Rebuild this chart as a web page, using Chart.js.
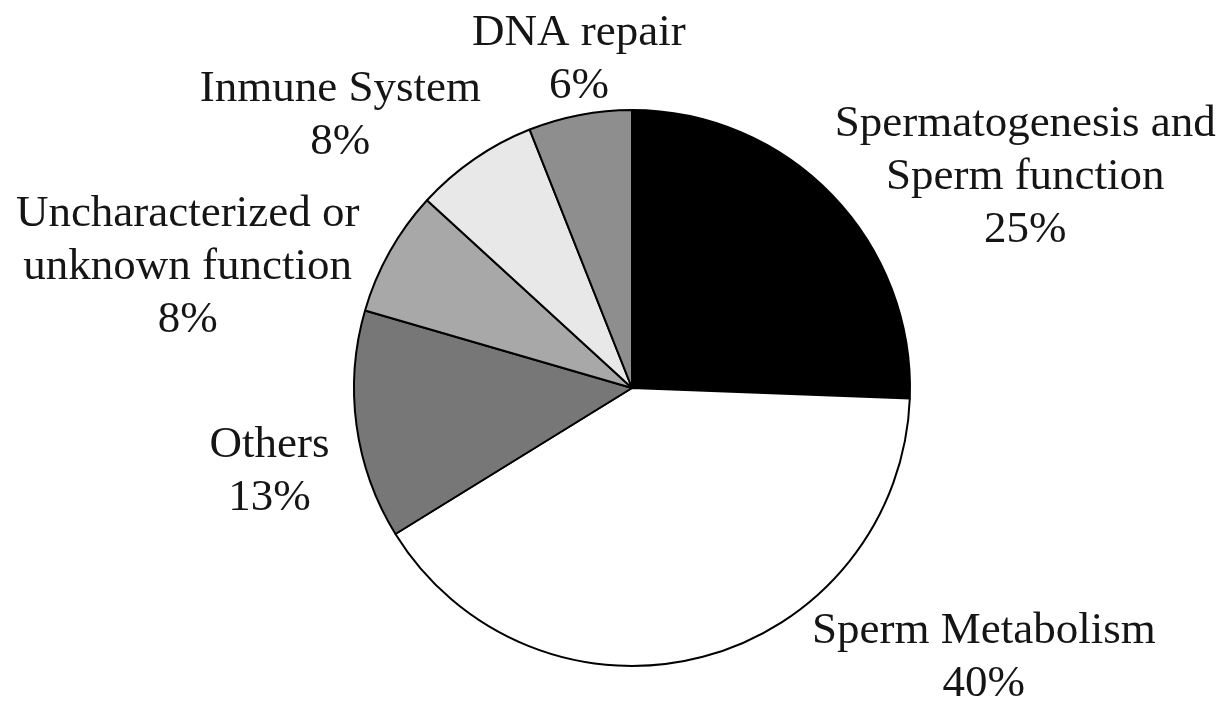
<!DOCTYPE html>
<html lang="en">
<head>
    <meta charset="UTF-8">
    <title>Protein function pie</title>
    <script src="https://cdn.jsdelivr.net/npm/chart.js"></script>
    <style>
        body { margin: 0; background: #fff; }
        #wrap { width: 1223px; height: 704px; }
    </style>
</head>
<body>
    <div id="wrap"><canvas id="myChart"></canvas></div>
    <script>
        // data
        const labelLines = [
            ['Spermatogenesis and', 'Sperm function'],
            ['Sperm Metabolism'],
            ['Others'],
            ['Uncharacterized or', 'unknown function'],
            ['Inmune System'],
            ['DNA repair']
        ];
        // printed (rounded) percentages
        const percentText = ['25%', '40%', '13%', '8%', '8%', '6%'];
        const sliceShares = [25.6, 40.6, 13.3, 7.3, 7.2, 6.0];
        const sliceColors = ['#000000', '#ffffff', '#777777', '#a8a8a8', '#e8e8e8', '#8e8e8e'];

        // where each label sits, relative to the middle of its slice's rim
        const labelShift = [[193, -18], [281, 1], [-87, 46], [-202, 15], [-134, -43], [-1, -55]];

        const outsideLabels = {
            id: 'outsideLabels',
            afterDatasetsDraw(chart) {
                const ctx = chart.ctx;
                const arcs = chart.getDatasetMeta(0).data;
                ctx.save();
                ctx.font = '45px "Liberation Serif", "Times New Roman", serif';
                ctx.fillStyle = '#151515';
                ctx.textAlign = 'center';
                ctx.textBaseline = 'middle';
                const lh = 53;
                arcs.forEach((arc, i) => {
                    const mid = (arc.startAngle + arc.endAngle) / 2;
                    const x = arc.x + Math.cos(mid) * arc.outerRadius + labelShift[i][0];
                    const y = arc.y + Math.sin(mid) * arc.outerRadius + labelShift[i][1];
                    const lines = labelLines[i].concat([percentText[i]]);
                    const top = y - (lines.length - 1) * lh / 2;
                    lines.forEach((t, j) => ctx.fillText(t, x, top + j * lh));
                });
                ctx.restore();
            }
        };

        const ctx = document.getElementById('myChart').getContext('2d');
        new Chart(ctx, {
            type: 'pie',
            data: {
                labels: labelLines.map(l => l.join(' ')),
                datasets: [{
                    data: sliceShares,
                    backgroundColor: sliceColors,
                    borderColor: '#000',
                    borderWidth: 2
                }]
            },
            options: {
                responsive: true,
                maintainAspectRatio: false,
                animation: false,
                layout: { padding: { top: 109, bottom: 37, left: 353, right: 312 } },
                plugins: {
                    legend: { display: false },
                    tooltip: { enabled: false }
                }
            },
            plugins: [outsideLabels]
        });
    </script>
</body>
</html>
